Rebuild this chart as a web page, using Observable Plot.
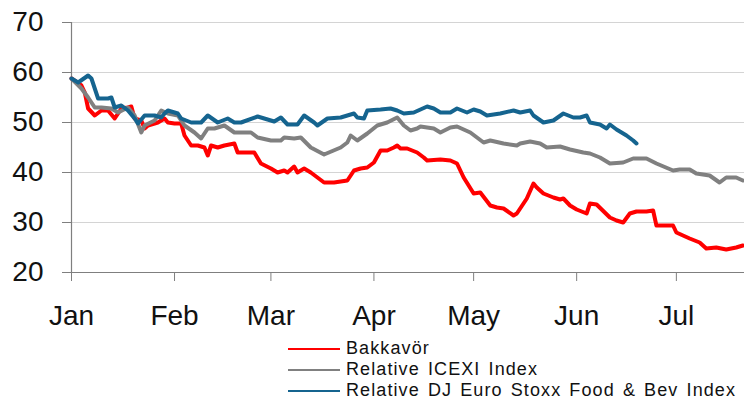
<!DOCTYPE html>
<html>
<head>
<meta charset="utf-8">
<script src="https://cdn.jsdelivr.net/npm/d3@7"></script>
<script src="https://cdn.jsdelivr.net/npm/@observablehq/plot@0.6"></script>
<style>
  html, body { margin: 0; padding: 0; background: #fff; }
  body { width: 744px; height: 404px; overflow: hidden; font-family: "Liberation Sans", Arial, sans-serif; }
  #wrap { position: relative; width: 744px; height: 404px; }
  #legend { position: absolute; left: 288px; top: 338px; font-size: 18px; color: #111; letter-spacing: 1.1px; word-spacing: 2px; }
  .row { display: flex; align-items: center; height: 21px; white-space: nowrap; }
  .sw { width: 52px; height: 2px; margin-right: 6px; }
</style>
</head>
<body>
<div id="wrap"><div id="chart"></div><div id="legend"></div></div>
<script>
const seriesNames = ["Bakkavör", "Relative ICEXI Index", "Relative DJ Euro Stoxx Food & Bev Index"];
const seriesColors = ["#ff0000", "#808080", "#15648f"];

const bakkavorDates = ["01-01","01-04","01-05","01-06","01-08","01-10","01-12","01-14","01-16","01-18","01-19","01-20","01-22","01-23","01-24","01-27","01-29","01-30",
  "02-01","02-03","02-04","02-06","02-08","02-10","02-11","02-12","02-14","02-16","02-19","02-20","02-25","02-27",
  "03-01","03-03","03-05","03-06","03-08","03-09","03-11","03-13","03-15","03-17","03-20","03-24","03-26","03-28","03-30",
  "04-01","04-03","04-05","04-07","04-08","04-09","04-11","04-14","04-16","04-17","04-21","04-24","04-26","04-28",
  "05-01","05-03","05-06","05-08","05-10","05-13","05-14","05-17","05-19","05-20","05-22","05-25","05-27","05-28","05-30",
  "06-01","06-04","06-05","06-07","06-11","06-13","06-15","06-17","06-19","06-22","06-24","06-25","06-30",
  "07-01","07-03","07-05","07-08","07-10","07-13","07-16","07-19","07-21"];
const bakkavorValues = [58.8,57.4,56,52.8,51.4,52.4,52.4,50.8,52.8,53,53.2,50.8,50.4,48.8,49.4,50,50.8,50,
  49.8,49.8,47.4,45.4,45.4,45,43.4,45.4,45,45.4,45.8,44,44,41.8,
  40.8,40,40.4,40,41.2,40,40.8,40,39,38,38,38.4,40.4,40.8,41,
  42,44.4,44.4,45,45.4,44.8,44.8,44,43,42.4,42.6,42.4,41.8,39,
  35.8,36,33.4,33,32.8,31.4,31.8,34.8,37.8,37,35.8,35,34.6,34.8,33.4,
  32.6,31.8,33.8,33.6,31,30.4,30,31.8,32.2,32.2,32.4,29.4,29.4,
  28,27.4,26.8,26,24.8,25,24.6,25,25.4];

const icexDates = ["01-01","01-04","01-06","01-08","01-10","01-13","01-15","01-18","01-20","01-22","01-23","01-26","01-28","01-30",
  "02-02","02-04","02-07","02-09","02-11","02-13","02-16","02-19","02-24","02-26",
  "03-01","03-04","03-05","03-08","03-10","03-13","03-17","03-22","03-24","03-25","03-27","03-30",
  "04-02","04-05","04-08","04-10","04-12","04-14","04-15","04-17","04-19","04-21","04-24","04-26","04-30",
  "05-04","05-06","05-10","05-14","05-15","05-18","05-21","05-23","05-27","05-30",
  "06-03","06-05","06-08","06-11","06-15","06-18","06-22","06-25","06-30",
  "07-02","07-05","07-07","07-11","07-14","07-16","07-19","07-21"];
const icexValues = [58.8,56.8,55,53,53,52.8,52,53,51.4,48,49.4,50.4,52.4,51.8,
  51.4,49.4,48,46.8,48.8,48.8,49.4,48,48,47,
  46.4,46.4,47,46.8,47,45,43.6,45,46,47.4,46.4,47.8,
  49.4,50,51,49.4,48.4,48.8,49.2,49,48.8,48,49,49.2,48,
  46,46.4,45.8,45.4,45.8,46.2,45.8,45,45.2,44.6,
  44,43.8,43,41.8,42,42.8,42.8,41.8,40.4,
  40.6,40.6,39.8,39.4,38,39,39,38.4];

const djDates = ["01-01","01-03","01-06","01-07","01-09","01-12","01-13","01-14","01-16","01-18","01-20","01-21","01-23","01-26","01-28","01-29","01-30",
  "02-02","02-03","02-06","02-09","02-11","02-14","02-17","02-19","02-21","02-26","02-29",
  "03-02","03-04","03-06","03-09","03-11","03-14","03-15","03-18","03-22","03-26","03-27","03-29","03-30",
  "04-03","04-06","04-08","04-10","04-13","04-17","04-19","04-21","04-24","04-26","04-29",
  "05-01","05-03","05-05","05-09","05-13","05-15","05-18","05-19","05-22","05-25","05-28","05-31",
  "06-02","06-04","06-05","06-08","06-10","06-11","06-13","06-16","06-18","06-19"];
const djValues = [58.8,58,59.4,58.8,54.8,54.8,55,53,53.4,52.4,50.8,49.8,51.4,51.4,51,51.8,52.4,
  51.8,50.8,50,50,51.4,50,50.8,50,50,51.2,50.6,
  50.2,51,49.6,49.6,51.4,50,49.4,50.8,51,51.8,51,50.8,52.4,
  52.6,52.8,52.4,51.8,52,53.2,52.8,52,52,52.8,52,
  52.6,52.2,51.4,51.8,52.4,52,52.4,51.4,50,50.4,51.8,51,
  51,51.4,50,49.6,48.8,49.6,48.6,47.4,46.4,45.8];

const year = "2008";
const monthTicks = ["01-01","02-01","03-01","04-01","05-01","06-01","07-01"];
const monthLabels = ["Jan","Feb","Mar","Apr","May","Jun","Jul"];
const yTicks = [20, 30, 40, 50, 60, 70];
const xStart = "01-01", xEnd = "07-21T12:00";

const toDate = s => new Date(`${year}-${s}${s.includes("T") ? "" : "T00:00"}Z`);
const build = (dates, values, name) => dates.map((d, i) => ({date: toDate(d), value: values[i], series: name}));
const data = [
  ...build(bakkavorDates, bakkavorValues, seriesNames[0]),
  ...build(icexDates, icexValues, seriesNames[1]),
  ...build(djDates, djValues, seriesNames[2])
];
const tickDates = monthTicks.map(toDate);
const axisColor = "#7f7f7f";

const chart = Plot.plot({
  width: 744,
  height: 340,
  marginLeft: 71,
  marginRight: 0,
  marginTop: 22,
  marginBottom: 68,
  style: {fontFamily: '"Liberation Sans", Arial, sans-serif', color: "#111", background: "#fff"},
  x: {type: "utc", domain: [toDate(xStart), toDate(xEnd)], label: null},
  y: {domain: [20, 70], label: null},
  color: {domain: seriesNames, range: seriesColors},
  marks: [
    Plot.gridY(yTicks, {stroke: "#d4d4d4", strokeOpacity: 1, strokeWidth: 1}),
    Plot.axisY(yTicks, {tickSize: 9, tickPadding: 19, fontSize: 28, stroke: axisColor, strokeOpacity: 1, label: null, tickFormat: d => String(d)}),
    Plot.axisX(tickDates, {tickSize: 9, tickPadding: 24, fontSize: 28, stroke: axisColor, strokeOpacity: 1, label: null,
      tickFormat: d => monthLabels[tickDates.findIndex(t => +t === +d)]}),
    Plot.ruleX([toDate(xStart)], {stroke: axisColor, strokeWidth: 1.2}),
    Plot.ruleY([20], {stroke: axisColor, strokeWidth: 1.2}),
    Plot.line(data, {x: "date", y: "value", z: "series", stroke: "series", strokeWidth: 4, strokeLinejoin: "round", strokeLinecap: "round"})
  ]
});
document.getElementById("chart").appendChild(chart);

const legend = document.getElementById("legend");
seriesNames.forEach((n, i) => {
  const row = document.createElement("div");
  row.className = "row";
  const sw = document.createElement("span");
  sw.className = "sw";
  sw.style.background = seriesColors[i];
  const t = document.createElement("span");
  t.textContent = n;
  row.appendChild(sw);
  row.appendChild(t);
  legend.appendChild(row);
});
</script>
</body>
</html>
